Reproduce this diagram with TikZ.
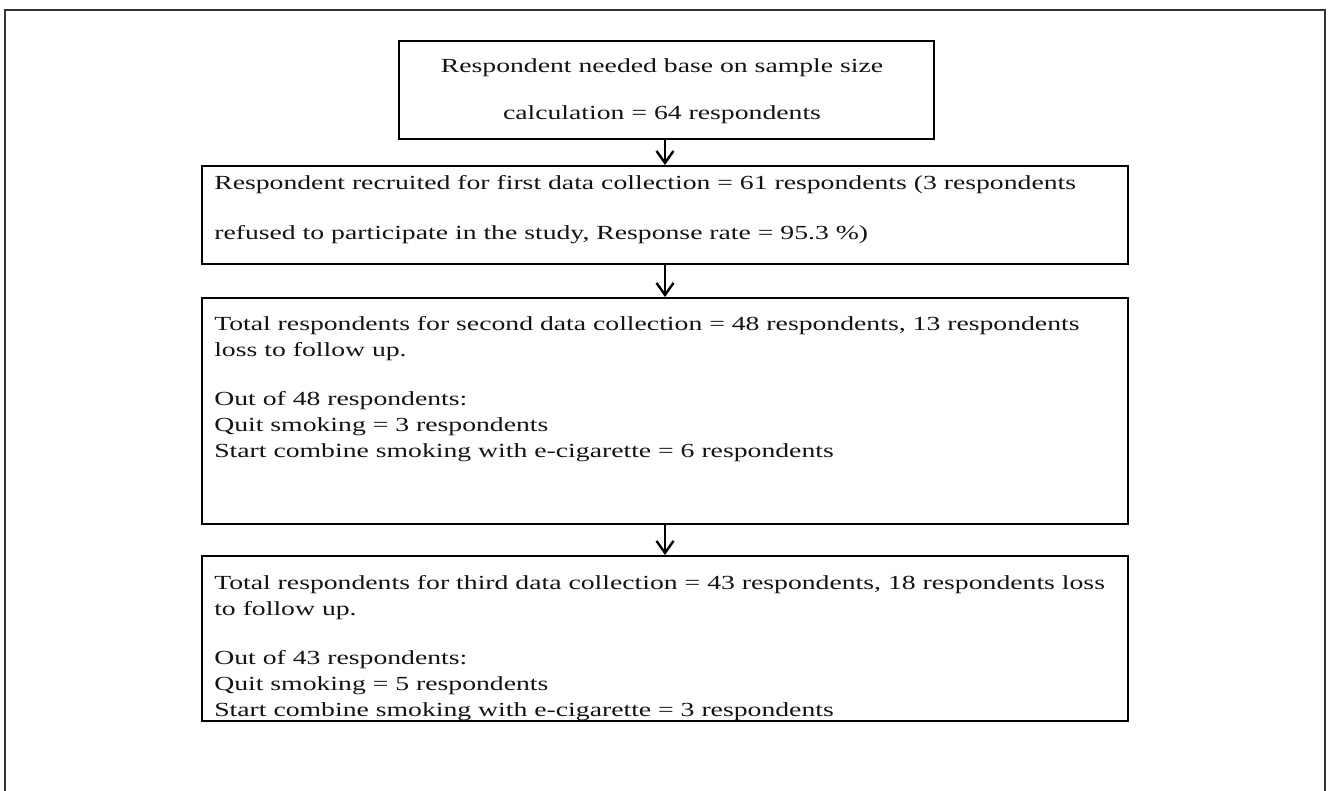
\documentclass[tikz,border=0pt]{standalone}
\usepackage{fontspec}
\setmainfont{Liberation Serif}
\usetikzlibrary{arrows.meta}
\begin{document}
\begin{tikzpicture}[x=1pt,y=-1pt,
  box/.style={draw=black, line width=2.4pt, anchor=north west, inner sep=0pt},
  txt/.style={anchor=base west, inner sep=0pt, xscale=1.385, transform shape, font=\fontsize{20}{24}\selectfont, text=black!92},
  ctxt/.style={anchor=base, inner sep=0pt, xscale=1.385, transform shape, font=\fontsize{20}{24}\selectfont, text=black!92},
  arr/.style={draw=black, line width=2.4pt, -{Straight Barb[length=12pt,width=17pt,line width=2.4pt]}}]
\useasboundingbox (0,0) rectangle (1332,790);
\fill[white] (0,0) rectangle (1332,790);
% outer frame (open at the bottom)
\coordinate (fbl) at (5,791);
\coordinate (ftl) at (5,10);
\coordinate (ftr) at (1325,10);
\coordinate (fbr) at (1325,791);
\draw[black!80, line width=2pt] (fbl) -- (ftl) -- (ftr) -- (fbr);
% boxes
\node[box, minimum width=535pt, minimum height=98pt] (b1) at (398,40) {};
\node[box, minimum width=926pt, minimum height=98pt] (b2) at (201,165) {};
\node[box, minimum width=926pt, minimum height=226pt] (b3) at (201,297) {};
\node[box, minimum width=926pt, minimum height=165pt] (b4) at (201,555) {};
% texts
\node[ctxt] (t11) at (662,72) {Respondent needed base on sample size};
\node[ctxt] (t12) at (662,119) {calculation = 64 respondents};
\node[txt] (t21) at (214,189) {Respondent recruited for first data collection = 61 respondents (3 respondents};
\node[txt] (t22) at (214,239) {refused to participate in the study, Response rate = 95.3 \%)};
\node[txt] (t31) at (214,330) {Total respondents for second data collection = 48 respondents, 13 respondents};
\node[txt] (t32) at (214,356) {loss to follow up.};
\node[txt] (t33) at (214,405) {Out of 48 respondents:};
\node[txt] (t34) at (214,431) {Quit smoking = 3 respondents};
\node[txt] (t35) at (214,457) {Start combine smoking with e-cigarette = 6 respondents};
\node[txt] (t41) at (214,589) {Total respondents for third data collection = 43 respondents, 18 respondents loss};
\node[txt] (t42) at (214,615) {to follow up.};
\node[txt] (t43) at (214,664) {Out of 43 respondents:};
\node[txt] (t44) at (214,690) {Quit smoking = 5 respondents};
\node[txt] (t45) at (214,716) {Start combine smoking with e-cigarette = 3 respondents};
% arrows
\draw[arr] (b1.south -| 665,0) -- (b2.north -| 665,0);
\draw[arr] (b2.south -| 665,0) -- (b3.north -| 665,0);
\draw[arr] (b3.south -| 665,0) -- (b4.north -| 665,0);
\end{tikzpicture}
\end{document}
